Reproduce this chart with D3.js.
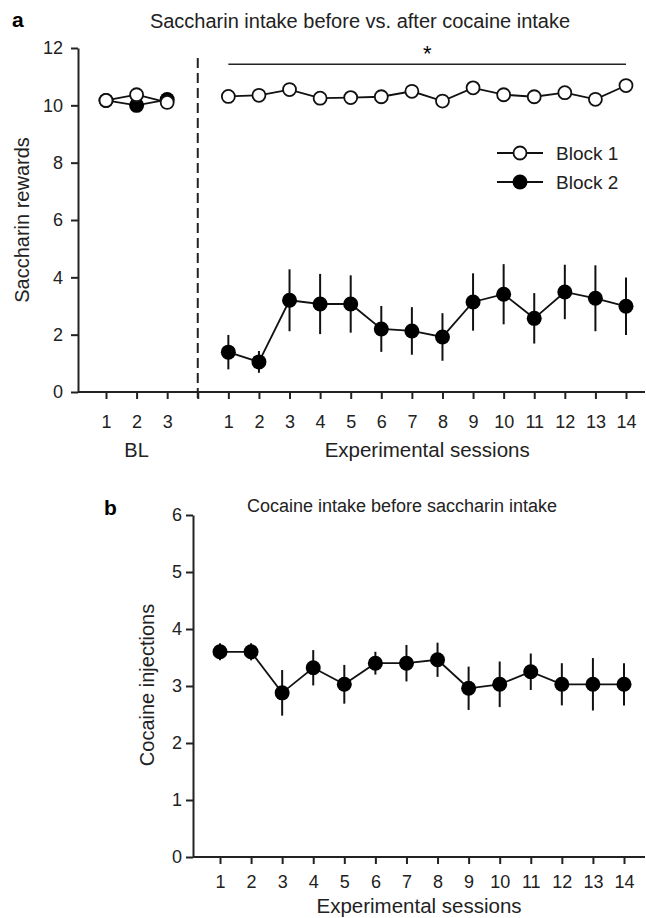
<!DOCTYPE html>
<html>
<head>
<meta charset="utf-8">
<script src="https://cdn.jsdelivr.net/npm/d3@7"></script>
<style>
  body { margin: 0; background: #fff; }
  svg { font-family: "Liberation Sans", Arial, sans-serif; }
  .axis path, .axis line { stroke: #222; stroke-width: 2; }
  .axis text { font-size: 18px; fill: #222; }
</style>
</head>
<body>
<div id="chartArea"></div>
<script>
// panel a: saccharin rewards
var blSessions = [1, 2, 3];
var expSessions = [1, 2, 3, 4, 5, 6, 7, 8, 9, 10, 11, 12, 13, 14];
var block1BL = [10.17, 10.37, 10.1];
var block2BL = [10.17, 10.0, 10.2];
var block1Exp = [10.31, 10.35, 10.55, 10.25, 10.27, 10.30, 10.49, 10.15, 10.61, 10.37, 10.30, 10.44, 10.21, 10.69];
var block2Exp = [1.39, 1.05, 3.2, 3.07, 3.07, 2.2, 2.13, 1.92, 3.14, 3.41, 2.57, 3.49, 3.27, 2.99];
var block2Sem = [0.6, 0.38, 1.08, 1.05, 1.0, 0.8, 0.83, 0.83, 1.0, 1.05, 0.88, 0.95, 1.15, 1.0];
var yTicksA = [0, 2, 4, 6, 8, 10, 12];

// panel b: cocaine injections
var cocaine = [3.6, 3.6, 2.88, 3.32, 3.03, 3.4, 3.4, 3.46, 2.96, 3.03, 3.25, 3.03, 3.03, 3.03];
var cocaineSem = [0.15, 0.15, 0.4, 0.31, 0.34, 0.2, 0.32, 0.3, 0.38, 0.4, 0.32, 0.37, 0.46, 0.37];
var yTicksB = [0, 1, 2, 3, 4, 5, 6];

var width = 646, height = 918;
var svg = d3.select('#chartArea').append('svg')
    .attr('width', width)
    .attr('height', height);

// ---------- panel a ----------
// one slot per session, BL first, a blank slot for the divider, then experimental
var slotsA = blSessions.map(function(d) { return 'BL' + d; })
    .concat(['gap'])
    .concat(expSessions.map(function(d) { return 'E' + d; }));
var xa = d3.scalePoint().domain(slotsA).range([106, 626]);
var ya = d3.scaleLinear().domain([0, 12]).range([392, 48]);

svg.append('g').attr('class', 'axis')
    .attr('transform', 'translate(78,0)')
    .call(d3.axisLeft(ya).tickValues(yTicksA).tickSize(7).tickPadding(8).tickSizeOuter(0));
var xaxA = svg.append('g').attr('class', 'axis')
    .attr('transform', 'translate(0,392)')
    .call(d3.axisBottom(xa).tickSize(7).tickPadding(16).tickSizeOuter(0)
        .tickFormat(function(d) { return d == 'gap' ? '' : d.replace(/^(BL|E)/, ''); }));
xaxA.select('.domain').attr('d', 'M78,0H645');

// dashed divider
svg.append('line')
    .attr('x1', xa('gap')).attr('x2', xa('gap'))
    .attr('y1', ya(11.65)).attr('y2', 399)
    .attr('stroke', '#222').attr('stroke-width', 2)
    .attr('stroke-dasharray', '10,5');

// significance bar
svg.append('line')
    .attr('x1', xa('E1')).attr('x2', xa('E14'))
    .attr('y1', ya(11.43)).attr('y2', ya(11.43))
    .attr('stroke', '#222').attr('stroke-width', 1.5);
svg.append('text')
    .attr('x', (xa('E7') + xa('E8')) / 2).attr('y', ya(11.43) - 3)
    .attr('text-anchor', 'middle').style('font-size', '22px').text('*');

var lineA = d3.line()
    .x(function(d) { return xa(d.slot); })
    .y(function(d) { return ya(d.v); });

function rows(slotPrefix, sessions, vals, sem) {
  return sessions.map(function(s, i) {
    return {slot: slotPrefix + s, v: vals[i], sem: sem ? sem[i] : 0};
  });
}
var b2bl = rows('BL', blSessions, block2BL);
var b2ex = rows('E', expSessions, block2Exp, block2Sem);
var b1bl = rows('BL', blSessions, block1BL);
var b1ex = rows('E', expSessions, block1Exp);

// block 2 (filled)
[b2bl, b2ex].forEach(function(data) {
  svg.append('path').datum(data).attr('d', lineA)
      .attr('fill', 'none').attr('stroke', '#111').attr('stroke-width', 1.8);
});
svg.append('g').selectAll('line').data(b2ex).enter().append('line')
    .attr('x1', function(d) { return xa(d.slot); })
    .attr('x2', function(d) { return xa(d.slot); })
    .attr('y1', function(d) { return ya(d.v + d.sem); })
    .attr('y2', function(d) { return ya(d.v - d.sem); })
    .attr('stroke', '#111').attr('stroke-width', 2);
svg.append('g').selectAll('circle').data(b2bl.concat(b2ex)).enter().append('circle')
    .attr('cx', function(d) { return xa(d.slot); })
    .attr('cy', function(d) { return ya(d.v); })
    .attr('r', 7.5).attr('fill', '#000');

// block 1 (open)
[b1bl, b1ex].forEach(function(data) {
  svg.append('path').datum(data).attr('d', lineA)
      .attr('fill', 'none').attr('stroke', '#111').attr('stroke-width', 1.8);
});
svg.append('g').selectAll('circle').data(b1bl.concat(b1ex)).enter().append('circle')
    .attr('cx', function(d) { return xa(d.slot); })
    .attr('cy', function(d) { return ya(d.v); })
    .attr('r', 6.5).attr('fill', '#fff').attr('stroke', '#111').attr('stroke-width', 1.8);

// legend
var legend = [{name: 'Block 1', open: true, y: 153}, {name: 'Block 2', open: false, y: 182}];
var lg = svg.append('g').selectAll('g').data(legend).enter().append('g');
lg.append('line').attr('x1', 497).attr('x2', 543)
    .attr('y1', function(d) { return d.y; }).attr('y2', function(d) { return d.y; })
    .attr('stroke', '#111').attr('stroke-width', 1.8);
lg.append('circle').attr('cx', 520).attr('cy', function(d) { return d.y; })
    .attr('r', function(d) { return d.open ? 6.5 : 7.5; })
    .attr('fill', function(d) { return d.open ? '#fff' : '#000'; })
    .attr('stroke', '#111').attr('stroke-width', function(d) { return d.open ? 1.8 : 0; });
lg.append('text').attr('x', 556).attr('y', function(d) { return d.y + 7; })
    .style('font-size', '19px').attr('fill', '#222').text(function(d) { return d.name; });

// texts panel a
svg.append('text').attr('x', 12).attr('y', 27)
    .style('font-size', '21px').style('font-weight', 'bold').text('a');
svg.append('text').attr('x', 360).attr('y', 28).attr('text-anchor', 'middle')
    .style('font-size', '20px').attr('fill', '#222')
    .text('Saccharin intake before vs. after cocaine intake');
svg.append('text').attr('transform', 'translate(29,220) rotate(-90)')
    .attr('text-anchor', 'middle').style('font-size', '20px').attr('fill', '#222')
    .text('Saccharin rewards');
svg.append('text').attr('x', xa('BL2')).attr('y', 457).attr('text-anchor', 'middle')
    .style('font-size', '20px').attr('fill', '#222').text('BL');
svg.append('text').attr('x', (xa('E1') + xa('E14')) / 2).attr('y', 457).attr('text-anchor', 'middle')
    .style('font-size', '20.5px').attr('fill', '#222').text('Experimental sessions');

// ---------- panel b ----------
var xb = d3.scalePoint().domain(expSessions).range([220, 624]);
var yb = d3.scaleLinear().domain([0, 6]).range([857, 515]);

svg.append('g').attr('class', 'axis')
    .attr('transform', 'translate(193,0)')
    .call(d3.axisLeft(yb).tickValues(yTicksB).tickFormat(d3.format('d'))
        .tickSize(7).tickPadding(4).tickSizeOuter(0));
var xaxB = svg.append('g').attr('class', 'axis')
    .attr('transform', 'translate(0,857)')
    .call(d3.axisBottom(xb).tickSize(7).tickPadding(11).tickSizeOuter(0));
xaxB.select('.domain').attr('d', 'M193,0H645');

var cocData = expSessions.map(function(s, i) { return {s: s, v: cocaine[i], sem: cocaineSem[i]}; });
svg.append('path').datum(cocData)
    .attr('d', d3.line().x(function(d) { return xb(d.s); }).y(function(d) { return yb(d.v); }))
    .attr('fill', 'none').attr('stroke', '#111').attr('stroke-width', 1.8);
svg.append('g').selectAll('line').data(cocData).enter().append('line')
    .attr('x1', function(d) { return xb(d.s); })
    .attr('x2', function(d) { return xb(d.s); })
    .attr('y1', function(d) { return yb(d.v + d.sem); })
    .attr('y2', function(d) { return yb(d.v - d.sem); })
    .attr('stroke', '#111').attr('stroke-width', 2);
svg.append('g').selectAll('circle').data(cocData).enter().append('circle')
    .attr('cx', function(d) { return xb(d.s); })
    .attr('cy', function(d) { return yb(d.v); })
    .attr('r', 7.5).attr('fill', '#000');

svg.append('text').attr('x', 104).attr('y', 515)
    .style('font-size', '21px').style('font-weight', 'bold').text('b');
svg.append('text').attr('x', 402).attr('y', 512).attr('text-anchor', 'middle')
    .style('font-size', '18px').attr('fill', '#222')
    .text('Cocaine intake before saccharin intake');
svg.append('text').attr('transform', 'translate(154,685) rotate(-90)')
    .attr('text-anchor', 'middle').style('font-size', '20px').attr('fill', '#222')
    .text('Cocaine injections');
svg.append('text').attr('x', 419).attr('y', 913).attr('text-anchor', 'middle')
    .style('font-size', '20.5px').attr('fill', '#222').text('Experimental sessions');
</script>
</body>
</html>
